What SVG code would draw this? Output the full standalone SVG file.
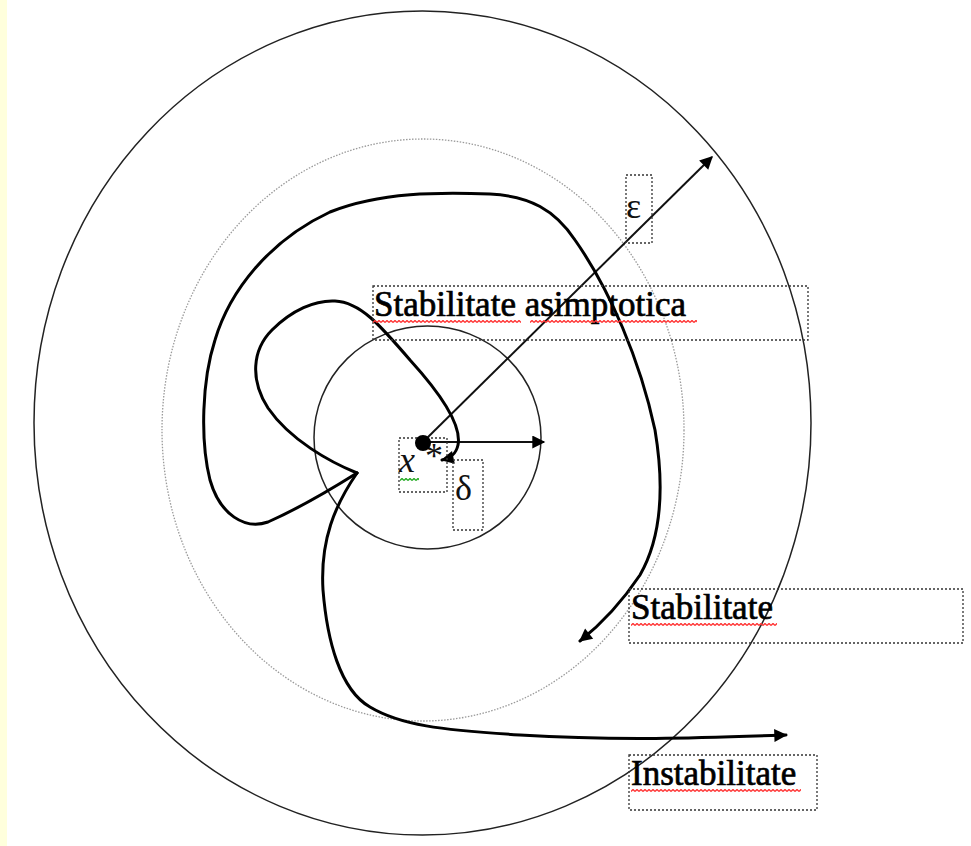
<svg xmlns="http://www.w3.org/2000/svg" width="971" height="846" viewBox="0 0 971 846">
<style>
.lbl{font-family:"Liberation Serif","Times New Roman",serif;font-size:35px;fill:#000;stroke:#000;stroke-width:0.7}
.sym{font-family:"Liberation Serif","Times New Roman",serif;font-size:36px;fill:#111}
.box{fill:none;stroke:#333;stroke-width:1.3;stroke-dasharray:2 2}
.ring{fill:none;stroke:#222;stroke-width:1.5}
.traj{fill:none;stroke:#000;stroke-width:3;stroke-linecap:round;stroke-linejoin:round}
.ray{fill:none;stroke:#111;stroke-width:2}
</style>
<defs>
<marker id="ah" viewBox="0 0 10 10" refX="9" refY="5" markerWidth="18" markerHeight="13" markerUnits="userSpaceOnUse" orient="auto">
<path d="M0,0 L10,5 L0,10 z" fill="#000"/>
</marker>
<pattern id="sqr" width="4" height="3" patternUnits="userSpaceOnUse">
<path d="M0,2.5 L2,0.5 L4,2.5" fill="none" stroke="#f33" stroke-width="1.4"/>
</pattern>
<pattern id="sqg" width="4" height="3" patternUnits="userSpaceOnUse">
<path d="M0,2.5 L2,0.5 L4,2.5" fill="none" stroke="#2a2" stroke-width="1.4"/>
</pattern>
</defs>
<rect x="0" y="0" width="971" height="846" fill="#fff"/>
<rect x="0" y="0" width="7" height="846" fill="#ffffdc"/>

<g id="regions">
<ellipse id="eps-ball" class="ring" cx="422.5" cy="423" rx="388.5" ry="412"/>
<ellipse id="dotted-ball" cx="423" cy="430" rx="261" ry="291" fill="none" stroke="#9a9a9a" stroke-width="1.3" stroke-dasharray="1.5 1.5"/>
<ellipse id="delta-ball" class="ring" cx="427.5" cy="437.5" rx="113.5" ry="111.5"/>
</g>

<g id="connectors">
<line class="ray" x1="423" y1="442" x2="712" y2="157" marker-end="url(#ah)"/>
<line class="ray" x1="423" y1="442" x2="544" y2="442" marker-end="url(#ah)"/>
<path id="traj-asympt" class="traj" d="M357,473 C330,462 290,440 268,408 C250,380 252,350 272,330 C292,310 315,300 335,301 C360,302 380,325 410,360 C440,393 462,425 458,445 C456,454 451,458 442,460" marker-end="url(#ah)"/>
<path id="traj-stab" class="traj" d="M357,473 C330,490 295,510 268,522 C245,530 220,515 210,480 C200,440 202,380 215,340 C230,290 270,240 330,212 C380,192 440,192 490,194 C530,196 555,210 575,240 C610,290 640,360 655,430 C665,490 660,540 640,575 C620,605 600,625 580,641" marker-end="url(#ah)"/>
<path id="traj-instab" class="traj" d="M357,473 C335,505 320,540 323,590 C327,640 340,690 370,707 C400,725 440,730 520,735 C620,741 700,738 786,735" marker-end="url(#ah)"/>
</g>

<g id="equilibrium">
<rect class="box" x="399" y="438" width="48" height="54"/>
<text class="sym" x="399" y="472" font-style="italic">x</text>
<text class="sym" x="425" y="468" font-size="22">*</text>
<rect transform="translate(400,478)" width="19" height="3" fill="url(#sqg)"/>
<circle cx="423" cy="443" r="8" fill="#000"/>
</g>

<g id="label-epsilon">
<rect class="box" x="626" y="175" width="26" height="68"/>
<text class="sym" x="626" y="218">ε</text>
</g>

<g id="label-delta">
<rect class="box" x="453" y="460" width="30" height="70"/>
<text class="sym" x="455" y="500">δ</text>
</g>

<g id="label-asympt">
<rect class="box" x="373" y="286" width="435" height="54"/>
<text class="lbl" x="374" y="316">Stabilitate asimptotica</text>
<rect transform="translate(373,320)" width="148" height="3" fill="url(#sqr)"/>
<rect transform="translate(530,320)" width="167" height="3" fill="url(#sqr)"/>
</g>

<g id="label-stab">
<rect class="box" x="629" y="589" width="334" height="54"/>
<text class="lbl" x="631" y="619">Stabilitate</text>
<rect transform="translate(631,623)" width="146" height="3" fill="url(#sqr)"/>
</g>

<g id="label-instab">
<rect class="box" x="629" y="755" width="188" height="55"/>
<text class="lbl" x="631" y="785">Instabilitate</text>
<rect transform="translate(631,789)" width="170" height="3" fill="url(#sqr)"/>
</g>
</svg>
